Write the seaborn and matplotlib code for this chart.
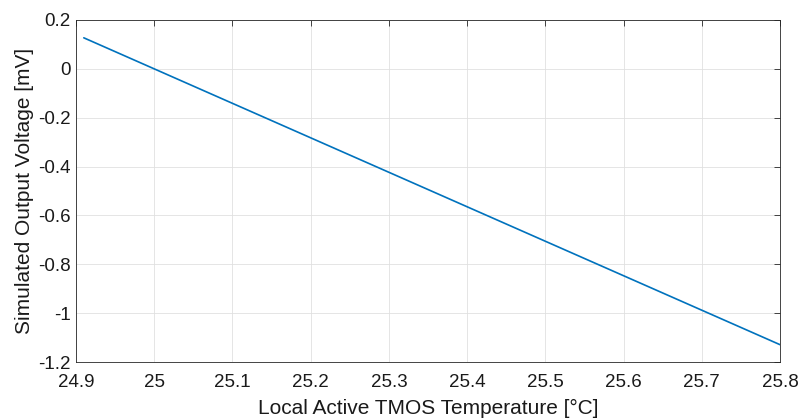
import matplotlib
matplotlib.use("Agg")
import matplotlib.pyplot as plt
import seaborn as sns
import pandas as pd
import numpy as np

temperature = [24.91, 25.8]
voltage_mv = [0.127, -1.129]
x_ticks = [24.9, 25.0, 25.1, 25.2, 25.3, 25.4, 25.5, 25.6, 25.7, 25.8]
x_labels = ["24.9", "25", "25.1", "25.2", "25.3", "25.4", "25.5", "25.6", "25.7", "25.8"]
y_ticks = [-1.2, -1.0, -0.8, -0.6, -0.4, -0.2, 0.0, 0.2]
y_labels = ["-1.2", "-1", "-0.8", "-0.6", "-0.4", "-0.2", "0", "0.2"]

sns.set_theme(style="white")
plt.rcParams['font.family'] = ['Liberation Sans', 'DejaVu Sans']

df = pd.DataFrame({"T": temperature, "V": voltage_mv})

fig = plt.figure(figsize=(7.99, 4.19), dpi=100)
ax = fig.add_axes([0.0951, 0.136, 0.9762 - 0.0951, 0.9523 - 0.136])
sns.lineplot(data=df, x="T", y="V", ax=ax, color="#0072BD", linewidth=1.2)

ax.set_xlim(24.9, 25.8)
ax.set_ylim(-1.2, 0.2)
ax.set_xticks(x_ticks)
ax.set_xticklabels(x_labels)
ax.set_yticks(y_ticks)
ax.set_yticklabels(y_labels)
ax.grid(True, color="#e0e0e0", linewidth=0.6)
ax.tick_params(direction="in", length=4, width=0.6, colors="#262626", labelsize=13.5,
               top=True, right=True, labelcolor="#1a1a1a")
ax.tick_params(axis="x", pad=8.5)
ax.tick_params(axis="y", pad=4)
for s in ax.spines.values():
    s.set_color("#262626")
    s.set_linewidth(0.6)
ax.set_xlabel("Local Active TMOS Temperature [°C]", fontsize=15, color="#1a1a1a", labelpad=6)
ax.set_ylabel("Simulated Output Voltage [mV]", fontsize=15, color="#1a1a1a", labelpad=3)

fig.savefig("out.png", dpi=100)
